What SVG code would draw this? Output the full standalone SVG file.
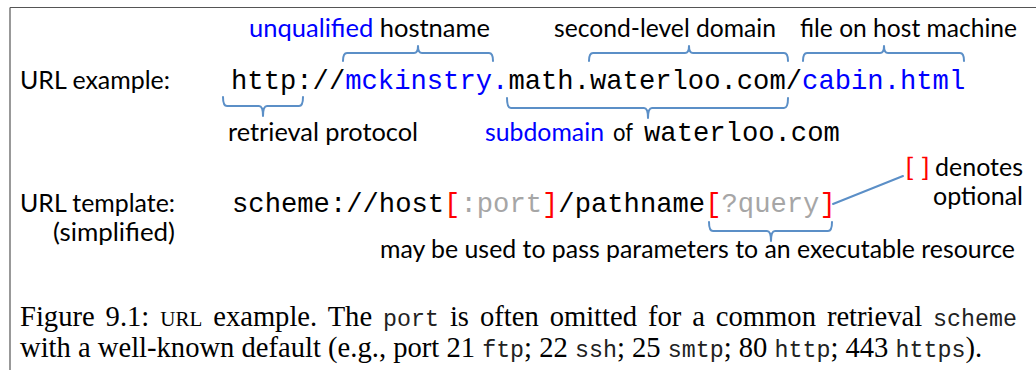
<svg xmlns="http://www.w3.org/2000/svg" width="1036" height="370" viewBox="0 0 1036 370">
<style>
.lbl{font-family:Lato,"Open Sans","Liberation Sans",sans-serif;font-size:25px;fill:#000}
.mono{font-family:"Liberation Mono","Courier New",monospace;font-size:27.2px;fill:#000}
.blue{fill:#0000ff}
.red{fill:#ff0000}
.gray{fill:#a6a6a6}
.brk{fill:none;stroke:#5b8fc7;stroke-width:2;stroke-linejoin:round;stroke-linecap:round}
.cap{font-family:"Liberation Serif","Times New Roman",serif;font-size:28.6px;fill:#000}
.ctt{font-family:"Liberation Mono","Courier New",monospace;font-size:23.3px;fill:#222}
.sc{font-size:21px}
</style>
<rect width="1036" height="370" fill="#fff"/>
<g id="frame">
<path d="M10,7.5 H1036 M10,7.5 V370" fill="none" stroke="#555" stroke-width="1.2"/>
</g>
<g id="labels-top">
<text class="lbl" x="249" y="37" textLength="241" lengthAdjust="spacingAndGlyphs"><tspan class="blue">unqualified</tspan> hostname</text>
<text class="lbl" x="554" y="37" textLength="222" lengthAdjust="spacingAndGlyphs">second-level domain</text>
<text class="lbl" x="800" y="37" textLength="217" lengthAdjust="spacingAndGlyphs">file on host machine</text>
</g>
<g id="url-example">
<text class="lbl" x="20" y="89" textLength="150" lengthAdjust="spacingAndGlyphs">URL example:</text>
<text class="mono" x="231" y="89">http://<tspan class="blue">mckinstry.</tspan>math.waterloo.com/<tspan class="blue">cabin.html</tspan></text>
</g>
<g id="labels-bottom">
<text class="lbl" x="228" y="141" textLength="190" lengthAdjust="spacingAndGlyphs">retrieval protocol</text>
<text class="lbl blue" x="485" y="141" textLength="119" lengthAdjust="spacingAndGlyphs">subdomain</text>
<text class="lbl" x="613" y="141" textLength="20" lengthAdjust="spacingAndGlyphs">of</text>
<text class="mono" x="644" y="141">waterloo.com</text>
</g>
<g id="url-template">
<text class="lbl" x="20" y="212" textLength="155" lengthAdjust="spacingAndGlyphs">URL template:</text>
<text class="lbl" x="53" y="241" textLength="122" lengthAdjust="spacingAndGlyphs">(simplified)</text>
<text class="mono" x="232" y="212">scheme://host<tspan class="red">[</tspan><tspan class="gray">:port</tspan><tspan class="red">]</tspan>/pathname<tspan class="red">[</tspan><tspan class="gray">?query</tspan><tspan class="red">]</tspan></text>
</g>
<g id="optional-note">
<text class="lbl red" x="905" y="176" textLength="25" lengthAdjust="spacingAndGlyphs">[ ]</text>
<text class="lbl" x="935" y="176" textLength="88" lengthAdjust="spacingAndGlyphs">denotes</text>
<text class="lbl" x="933" y="205" textLength="90" lengthAdjust="spacingAndGlyphs">optional</text>
</g>
<g id="query-note">
<text class="lbl" x="380" y="258" textLength="635" lengthAdjust="spacingAndGlyphs">may be used to pass parameters to an executable resource</text>
</g>
<g id="connectors">
<path class="brk" d="M343,61 Q343,53 347,53 H414 Q418,53 418,46 Q418,53 422,53 H489 Q493,53 493,61"/>
<path class="brk" d="M589,61 Q589,53 593,53 H685 Q689,53 689,46 Q689,53 693,53 H784 Q788,53 788,61"/>
<path class="brk" d="M803,61 Q803,53 807,53 H880 Q884,53 884,46 Q884,53 888,53 H960 Q964,53 964,61"/>
<path class="brk" d="M223,97 Q223,106 227,106 H259 Q263,106 263,116 Q263,106 267,106 H299 Q303,106 303,97"/>
<path class="brk" d="M507,98 Q507,108 511,108 H644 Q648,108 648,118 Q648,108 652,108 H784 Q788,108 788,98"/>
<path class="brk" d="M709,222 Q709,231 713,231 H767 Q771,231 771,241 Q771,231 775,231 H828 Q832,231 832,222"/>
<line class="brk" x1="833" y1="204" x2="903" y2="176"/>
</g>
<g id="caption">
<text class="cap" x="20" y="326" word-spacing="3.8">Figure 9.1:  <tspan class="sc">URL</tspan> example.  The <tspan class="ctt">port</tspan> is often omitted for a common retrieval <tspan class="ctt">scheme</tspan></text>
<text class="cap" x="20" y="357">with a well-known default (e.g., port 21 <tspan class="ctt">ftp</tspan>; 22 <tspan class="ctt">ssh</tspan>; 25 <tspan class="ctt">smtp</tspan>; 80 <tspan class="ctt">http</tspan>; 443 <tspan class="ctt">https</tspan>).</text>
</g>
</svg>
